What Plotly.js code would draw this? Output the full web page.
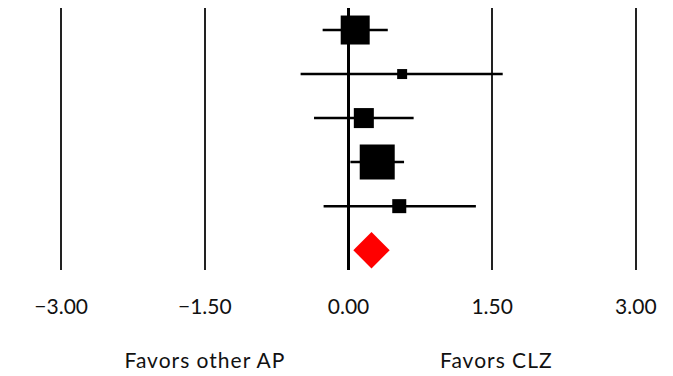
<!DOCTYPE html>
<html>
<head>
<meta charset="utf-8">
<script src="https://cdn.plot.ly/plotly-3.0.1.min.js"></script>
<style>html,body{margin:0;padding:0;background:#fff;}#chart{width:673px;height:376px;}
#chart .annotation-text{letter-spacing:1px;}</style>
</head>
<body>
<div id="chart"></div>
<script>
// Study-level effect sizes
const studyRows = [1, 2, 3, 4, 5];
const estimates = [0.07, 0.56, 0.16, 0.30, 0.53];
const lowerCI = [-0.27, -0.50, -0.36, 0.02, -0.26];
const upperCI = [0.41, 1.61, 0.68, 0.58, 1.33];
const weights = [30.4, 3.6, 14.5, 44.3, 7.1];
// Pooled estimate
const pooledRow = [6];
const pooledEstimate = [0.24];
// Axis ticks
const tickValues = [-3, -1.5, 0, 1.5, 3];
const tickLabels = ['\u22123.00', '\u22121.50', '0.00', '1.50', '3.00'];
const sideLabels = ['Favors other AP', 'Favors CLZ'];
const sideLabelX = [-1.5, 1.55];

const sizes = weights.map(w => 5.26 * Math.sqrt(w));

const studies = {
  type: 'scatter', mode: 'markers',
  x: estimates, y: studyRows,
  marker: {symbol: 'square', color: '#000', opacity: 1, size: sizes, line: {width: 0}},
  error_x: {
    type: 'data', symmetric: false,
    array: estimates.map((e, i) => upperCI[i] - e),
    arrayminus: estimates.map((e, i) => e - lowerCI[i]),
    color: '#000', thickness: 2.5, width: 0
  },
  hoverinfo: 'skip', showlegend: false
};

const pooled = {
  type: 'scatter', mode: 'markers',
  x: pooledEstimate, y: pooledRow,
  marker: {symbol: 'diamond', color: '#ff0000', opacity: 1, size: 28, line: {width: 0}},
  hoverinfo: 'skip', showlegend: false
};

const font = {family: 'Lato, "Open Sans", sans-serif', size: 21, color: '#111'};

const layout = {
  width: 673, height: 376,
  margin: {l: 42, r: 18, t: 8, b: 106},
  paper_bgcolor: '#fff', plot_bgcolor: '#fff',
  font: font,
  xaxis: {
    range: [-3.2, 3.2],
    tickvals: tickValues, ticktext: tickLabels,
    showgrid: true, gridcolor: '#222', gridwidth: 2.5,
    zeroline: true, zerolinecolor: '#000', zerolinewidth: 3,
    showline: false, ticks: '',
    ticklabelstandoff: 22,
    tickfont: font
  },
  yaxis: {
    range: [6.45, 0.5],
    showgrid: false, zeroline: false, showline: false,
    showticklabels: false, ticks: ''
  },
  annotations: sideLabels.map((t, i) => ({
    text: t, x: sideLabelX[i], xref: 'x', y: -0.3435, yref: 'paper',
    showarrow: false, xanchor: 'center', yanchor: 'middle', font: font
  }))
};

Plotly.newPlot('chart', [studies, pooled], layout, {displayModeBar: false, staticPlot: true});
</script>
</body>
</html>
